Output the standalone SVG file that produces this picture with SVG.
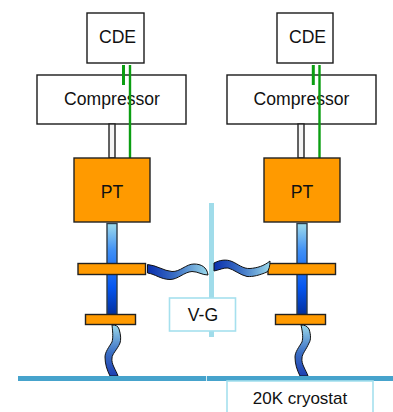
<svg xmlns="http://www.w3.org/2000/svg" width="393" height="412" viewBox="0 0 393 412">
<style>
text{font-family:"Liberation Sans",Arial,sans-serif;font-size:17.600px;fill:#111;text-anchor:middle}
.box{fill:#fff;stroke:#1a1a1a;stroke-width:1.400}
.or{fill:#ff9a00;stroke:#222;stroke-width:1.400}
.g{stroke:#0b9e12;fill:none}
.tube{fill:#f4f4f4;stroke:#222;stroke-width:1.400}
.col{fill:url(#cg);stroke:#2f3d48;stroke-width:1.400}
.wv{stroke:#111;stroke-width:1}
.lb{fill:#fff;stroke:#a6e0ee;stroke-width:1.600}
</style>
<defs>
<linearGradient id="cg" x1="0" y1="0" x2="0" y2="1"><stop offset="0" stop-color="#9fdcec"/><stop offset=".3" stop-color="#3f8ff5"/><stop offset=".7" stop-color="#0556f0"/><stop offset="1" stop-color="#02309f"/></linearGradient>
<linearGradient id="wh" x1="0" y1="0" x2="1" y2="0"><stop offset="0" stop-color="#0a2fae"/><stop offset=".45" stop-color="#3a6ec4"/><stop offset="1" stop-color="#9ad8ea"/></linearGradient>
<linearGradient id="wv" x1="0" y1="1" x2="0" y2="0"><stop offset="0" stop-color="#1d3fb2"/><stop offset=".45" stop-color="#3a6ec4"/><stop offset="1" stop-color="#9ad8ea"/></linearGradient>
</defs>
<g id="vg-line"><rect x="209" y="203" width="5" height="134" fill="#a0dcea"/></g>
<g id="cde-left"><rect class="box" x="87" y="13" width="57" height="50"/><text x="117.500" y="43">CDE</text></g>
<g id="compressor-left"><rect class="box" x="37" y="75" width="149" height="49"/><text x="112" y="105">Compressor</text></g>
<g id="cde-right"><rect class="box" x="277" y="13" width="56" height="50"/><text x="307.500" y="43">CDE</text></g>
<g id="compressor-right"><rect class="box" x="227" y="75" width="149" height="49"/><text x="301.500" y="105">Compressor</text></g>
<g id="connectors">
<rect class="tube" x="109" y="124" width="6" height="34"/>
<rect class="tube" x="298" y="124" width="6" height="34"/>
<path class="g" stroke-width="3" d="M123.500 65V85M313.300 65V85"/>
<path class="g" stroke-width="2.400" d="M130 65V158M319.500 65V158"/>
</g>
<g id="cold-left"><rect class="col" x="107" y="223.500" width="10" height="91"/></g>
<g id="cold-right"><rect class="col" x="297" y="223.500" width="10" height="91"/></g>
<g id="pt-left"><rect class="or" x="74" y="158" width="76" height="64"/><text x="112" y="198">PT</text></g>
<g id="pt-right"><rect class="or" x="264" y="158" width="76" height="64"/><text x="302" y="198">PT</text></g>
<g id="flange-left-1"><rect class="or" x="78" y="263.500" width="67.500" height="11"/></g>
<g id="flange-left-2"><rect class="or" x="85.500" y="314.500" width="50" height="10"/></g>
<g id="flange-right-1"><rect class="or" x="268" y="263.500" width="67.500" height="11"/></g>
<g id="flange-right-2"><rect class="or" x="275.500" y="314.500" width="50" height="10"/></g>
<g id="flex">
<path class="wv" fill="url(#wh)" d="M147.500 264.500C156 265 164 271 172 271.500C180 272 186 264 194 264C201 264 207 267 208 275C202 275 198 271.500 192 271.500C184 272 178 279.500 170 279.500C161 279.500 155 274 147.500 273Z"/>
<path class="wv" fill="url(#wh)" d="M214 263C220 260 226 259 232 261.500C238 264 243 269 250 268.500C257 268 264 266 270 261C270 266 269 270 267 272C260 275 253 277 247 276.500C240 275 234 269.500 228 268C224 267.500 219 270 214 271Z"/>
<path class="wv" fill="url(#wv)" d="M112 325C116 325 118 326 119 329C121 335 121 340 120 343C117 350 112 354 112 358C111 364 116 370 118 376H110C107 370 105 364 105 357C105 352 109 347 112 342C113 338 113 334 112 325Z"/>
<path class="wv" fill="url(#wv)" d="M301 325C305 325 307 326 309 329C311 335 311 340 309 343C306 350 302 354 302 358C301 364 306 370 308 376H300C297 370 295 364 295 357C295 352 299 347 302 342C303 338 303 334 301 325Z"/>
</g>
<g id="cryostat-line"><rect x="18" y="376" width="375" height="5" fill="#46a3cc"/><rect x="206" y="376" width="1" height="5" fill="#d5edf5"/></g>
<g id="vg"><rect class="lb" x="169.500" y="298" width="66" height="33"/><text x="203" y="321">V-G</text></g>
<g id="cryostat"><rect class="lb" x="227" y="381" width="146" height="32"/><text x="300" y="404" style="font-size:17px">20K cryostat</text></g>
</svg>
